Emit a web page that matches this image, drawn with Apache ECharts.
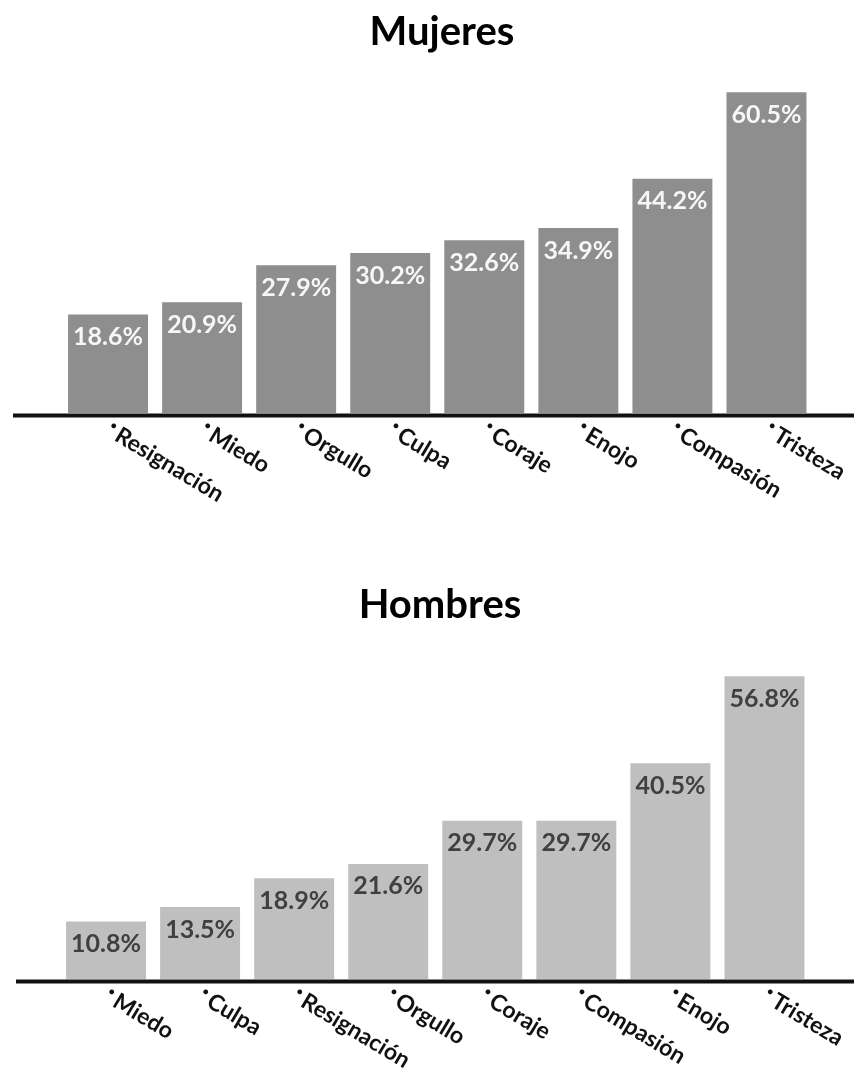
<!DOCTYPE html>
<html>
<head>
<meta charset="utf-8">
<script src="https://cdn.jsdelivr.net/npm/echarts@6/dist/echarts.min.js"></script>
<style>
  html, body { margin: 0; padding: 0; background: #fff; }
  #main { width: 854px; height: 1074px; }
</style>
</head>
<body>
<div id="main"></div>
<script>
// Mujeres
var mujeresCats = ["Resignación", "Miedo", "Orgullo", "Culpa", "Coraje", "Enojo", "Compasión", "Tristeza"]
var mujeresVals = [18.6, 20.9, 27.9, 30.2, 32.6, 34.9, 44.2, 60.5]
// Hombres
var hombresCats = ["Miedo", "Culpa", "Resignación", "Orgullo", "Coraje", "Compasión", "Enojo", "Tristeza"]
var hombresVals = [10.8, 13.5, 18.9, 21.6, 29.7, 29.7, 40.5, 56.8]

var font = "Lato"
var myChart = echarts.init(document.getElementById("main"))

function catLabel () {
  return {
    interval: 0,
    rotate: -31,
    margin: 15,
    formatter: function (v) {
      return "{d|•}{t|" + v + "}"
    },
    rich: {
      d: { fontSize: 13, color: "#111", fontFamily: font, verticalAlign: "top", padding: [0, 3, 0, 0] },
      t: { fontSize: 23, fontWeight: "bold", color: "#111", fontFamily: font }
    }
  }
}

function barSeries (idx, data, color, labelColor) {
  return {
    type: "bar",
    xAxisIndex: idx,
    yAxisIndex: idx,
    data: data,
    barCategoryGap: "15%",
    itemStyle: { color: color },
    label: {
      show: true,
      position: "insideTop",
      distance: 10,
      color: labelColor,
      fontFamily: font,
      fontWeight: "bold",
      fontSize: 25,
      formatter: function (p) {
        return p.value.toFixed(1) + "%"
      }
    }
  }
}

var option = {
  animation: false,
  title: [
    { text: "Mujeres", left: 437, top: 7, textAlign: "center",
      textStyle: { fontFamily: font, fontSize: 40, fontWeight: "bold", color: "#000" } },
    { text: "Hombres", left: 435, top: 580, textAlign: "center",
      textStyle: { fontFamily: font, fontSize: 40, fontWeight: "bold", color: "#000" } }
  ],
  grid: [
    { left: 61, width: 752.5, top: 42, height: 371 },
    { left: 59, width: 752.5, top: 606, height: 373 }
  ],
  xAxis: [
    { type: "category", gridIndex: 0, data: mujeresCats, axisLine: { show: false }, axisTick: { show: false }, axisLabel: catLabel() },
    { type: "category", gridIndex: 1, data: hombresCats, axisLine: { show: false }, axisTick: { show: false }, axisLabel: catLabel() }
  ],
  yAxis: [
    { type: "value", gridIndex: 0, min: 0, max: 70, show: false },
    { type: "value", gridIndex: 1, min: 0, max: 70, show: false }
  ],
  series: [
    barSeries(0, mujeresVals, "#8e8e8e", "#f7f7f7"),
    barSeries(1, hombresVals, "#bfbfbf", "#404040")
  ],
  // baselines run wider than the bars
  graphic: [
    { type: "line", shape: { x1: 13, y1: 415.5, x2: 854, y2: 415.5 }, style: { stroke: "#111", lineWidth: 4 } },
    { type: "line", shape: { x1: 16, y1: 981.5, x2: 854, y2: 981.5 }, style: { stroke: "#111", lineWidth: 4 } }
  ]
}

myChart.setOption(option)
</script>
</body>
</html>
